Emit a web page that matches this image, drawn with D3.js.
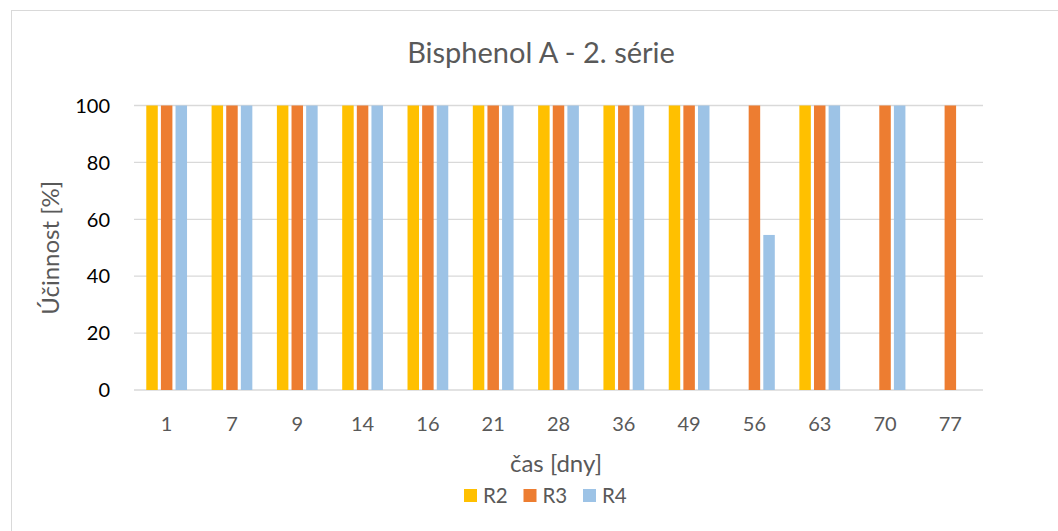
<!DOCTYPE html>
<html>
<head>
<meta charset="utf-8">
<script src="https://cdnjs.cloudflare.com/ajax/libs/d3/7.8.5/d3.min.js"></script>
<style>
  body { margin: 0; background: #fff; }
  text { font-family: Lato, "Open Sans", sans-serif; fill: #595959; }
</style>
</head>
<body>
<div id="chart"></div>
<script>
// chart data
const days = ["1", "7", "9", "14", "16", "21", "28", "36", "49", "56", "63", "70", "77"];
const seriesNames = ["R2", "R3", "R4"];
const colors = ["#FFC000", "#ED7D31", "#9DC3E6"];
const r2 = [100, 100, 100, 100, 100, 100, 100, 100, 100, null, 100, null, null];
const r3 = [100, 100, 100, 100, 100, 100, 100, 100, 100, 100, 100, 100, 100];
const r4 = [100, 100, 100, 100, 100, 100, 100, 100, 100, 54.5, 100, 100, null];
const yTicks = [0, 20, 40, 60, 80, 100];

const width = 1058, height = 531;
const margin = {top: 105.5, right: 75, bottom: 141, left: 134};

const svg = d3.select("#chart").append("svg")
    .attr("width", width)
    .attr("height", height);

// outer chart border (runs off the right/bottom edge)
svg.append("rect")
    .attr("x", 11.5).attr("y", 10.5)
    .attr("width", 1100).attr("height", 600)
    .attr("fill", "none")
    .attr("stroke", "#d9d9d9");

const x = d3.scaleBand()
    .domain(days)
    .range([margin.left, width - margin.right]);

const y = d3.scaleLinear()
    .domain([0, 100])
    .range([height - margin.bottom, margin.top]);

// bars inside each band
const bw = x.bandwidth() * 0.176;
const step = x.bandwidth() * 0.224;
const inner = d3.scaleOrdinal()
    .domain(seriesNames)
    .range([-step, 0, step]);

// gridlines
svg.append("g")
  .selectAll("line")
  .data(yTicks)
  .join("line")
    .attr("x1", margin.left).attr("x2", width - margin.right)
    .attr("y1", d => y(d)).attr("y2", d => y(d))
    .attr("stroke", "#d9d9d9")
    .attr("stroke-width", 1.3);

// y tick labels
svg.append("g")
  .selectAll("text")
  .data(yTicks)
  .join("text")
    .attr("x", 110)
    .attr("y", d => y(d))
    .attr("dy", "0.36em")
    .attr("text-anchor", "end")
    .style("font-size", "20px")
    .style("fill", "#000")
    .text(d => d);

// x tick labels
svg.append("g")
  .selectAll("text")
  .data(days)
  .join("text")
    .attr("x", d => x(d) + x.bandwidth() / 2)
    .attr("y", 431)
    .attr("text-anchor", "middle")
    .style("font-size", "20px")
    .text(d => d);

const allSeries = [r2, r3, r4];
allSeries.forEach((vals, si) => {
  svg.append("g")
    .selectAll("rect")
    .data(vals.map((v, i) => ({day: days[i], v: v})).filter(d => d.v != null))
    .join("rect")
      .attr("x", d => x(d.day) + x.bandwidth() / 2 + inner(seriesNames[si]) - bw / 2)
      .attr("y", d => y(d.v))
      .attr("width", bw)
      .attr("height", d => y(0) - y(d.v))
      .attr("fill", colors[si]);
});

// title
svg.append("text")
    .attr("x", 541).attr("y", 63)
    .attr("text-anchor", "middle")
    .style("font-size", "29px")
    .text("Bisphenol A - 2. série");

// axis titles
svg.append("text")
    .attr("transform", "translate(59," + ((y(0) + y(100)) / 2) + ") rotate(-90)")
    .attr("text-anchor", "middle")
    .style("font-size", "24px")
    .text("Účinnost [%]");

svg.append("text")
    .attr("x", 556)
    .attr("y", 472)
    .attr("text-anchor", "middle")
    .style("font-size", "24px")
    .text("čas [dny]");

// legend
const legend = svg.append("g")
  .selectAll("g")
  .data(seriesNames)
  .join("g")
    .attr("transform", (d, i) => "translate(" + (464 + i * 59.5) + ",489)");

legend.append("rect")
    .attr("width", 13).attr("height", 13)
    .attr("fill", (d, i) => colors[i]);

legend.append("text")
    .attr("x", 19).attr("y", 14)
    .style("font-size", "20.5px")
    .text(d => d);
</script>
</body>
</html>
